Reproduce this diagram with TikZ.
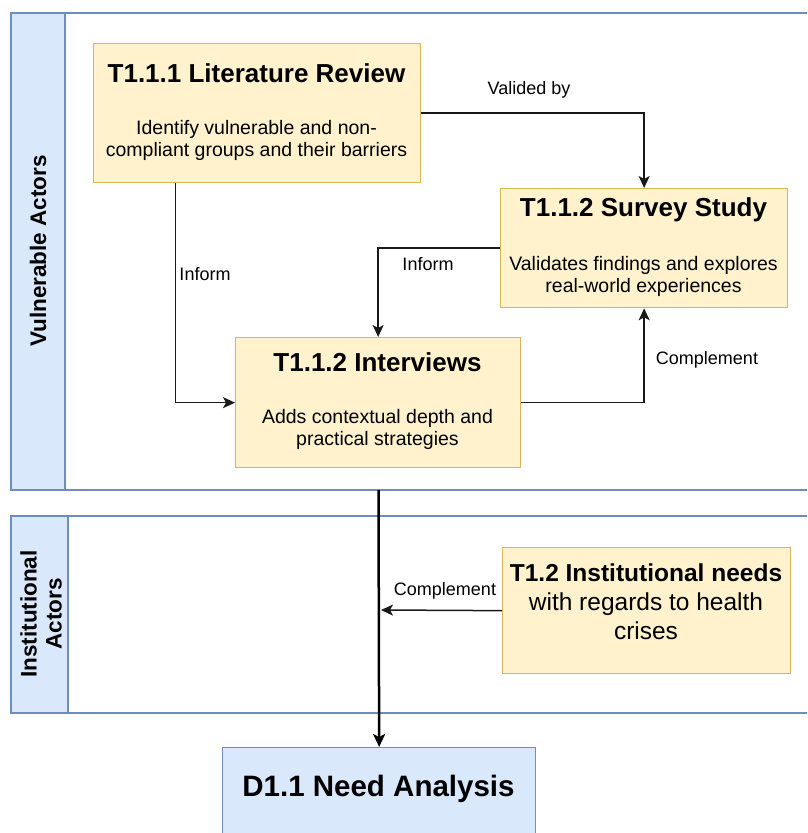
\documentclass[tikz,border=0pt]{standalone}
\usepackage{fontspec}
\setmainfont{Liberation Sans}
\usetikzlibrary{arrows.meta}
\definecolor{ybg}{HTML}{FFF2CC}
\definecolor{ybd}{HTML}{D6B656}
\definecolor{bbg}{HTML}{DAE8FC}
\definecolor{bbd}{HTML}{6C8EBF}
\begin{document}
\begin{tikzpicture}[x=1pt,y=-1pt,
 ybox/.style={draw=ybd, fill=ybg, line width=1.3pt, inner sep=0pt, anchor=north west},
 bbox/.style={draw=bbd, fill=bbg, line width=1.3pt},
 pool/.style={draw=bbd, line width=1.3pt},
 conn/.style={draw=black!90, line width=1.5pt, -{Stealth[length=12pt,width=11pt,inset=3pt]}},
 mainconn/.style={draw=black, line width=2.5pt, -{Stealth[length=13pt,width=12pt,inset=3pt]}},
 lbl/.style={font=\fontsize{18}{20}\selectfont, inner sep=1pt},
 ttl/.style={font=\bfseries\fontsize{26}{28}\selectfont},
 body/.style={font=\fontsize{19.5}{22}\selectfont, align=center},
 hdr/.style={rotate=90, align=center, font=\bfseries\fontsize{22.5}{25}\selectfont}]
\useasboundingbox (0,0) rectangle (807,833);
\clip (0,0) rectangle (807,833);
% pools
\draw[pool] (11,13) rectangle (830,490);
\filldraw[bbox] (11,13) rectangle (65,490);
\node[hdr] (va) at (38,251) {Vulnerable Actors};
\draw[pool] (11,516) rectangle (830,713);
\filldraw[bbox] (11,516) rectangle (68,713);
\node[hdr] (ia) at (41,614) {Institutional\\Actors};
% boxes
\node[ybox, minimum width=327pt, minimum height=139pt] (lit) at (93,43) {};
\node[ttl] (litT) at (256.5,73) {T1.1.1 Literature Review};
\node[body] (litB) at (256.5,140) {Identify vulnerable and non-\\compliant groups and their barriers};
\node[ybox, minimum width=287pt, minimum height=119pt] (sur) at (500,188) {};
\node[ttl] (surT) at (643.5,210) {T1.1.2 Survey Study};
\node[body] (surB) at (643.5,276) {Validates findings and explores\\real-world experiences};
\node[ybox, minimum width=285pt, minimum height=130pt] (int) at (235,337) {};
\node[ttl] (intT) at (377.5,362) {T1.1.2 Interviews};
\node[body] (intB) at (377.5,429) {Adds contextual depth and\\practical strategies};
\node[ybox, minimum width=288pt, minimum height=126pt] (inst) at (502,547) {};
\node[ttl, font=\bfseries\fontsize{24.5}{28}\selectfont] (instT) at (646,573) {T1.2 Institutional needs};
\node[align=center, font=\fontsize{24.5}{28.5}\selectfont] (instB) at (646,616) {with regards to health\\crises};
\node[draw=bbd, fill=bbg, line width=1.3pt, inner sep=0pt, anchor=north west, minimum width=313pt, minimum height=110pt] (d11) at (222,747) {};
\node[font=\bfseries\fontsize{29.5}{32}\selectfont] (d11T) at (378.5,789) {D1.1 Need Analysis};
% connectors
\draw[conn] (lit.east) -| (sur.north);
\node[lbl] (l1) at (529,90) {Valided by};
\draw[conn] ([xshift=-81.5pt]lit.south) |- (int.west);
\node[lbl] (l2) at (205,274) {Inform};
\draw[conn] (sur.west) -| (int.north);
\node[lbl] (l3) at (428,264) {Inform};
\draw[conn] (int.east) -| (sur.south);
\node[lbl] (l4) at (707,360) {Complement};
\coordinate (ms) at (378.5,490);
\draw[mainconn] (ms) -- (d11.north);
\coordinate (mj) at (381,610);
\draw[conn] (inst.west) -- (mj);
\node[lbl] (l5) at (445,591) {Complement};
\end{tikzpicture}
\end{document}
